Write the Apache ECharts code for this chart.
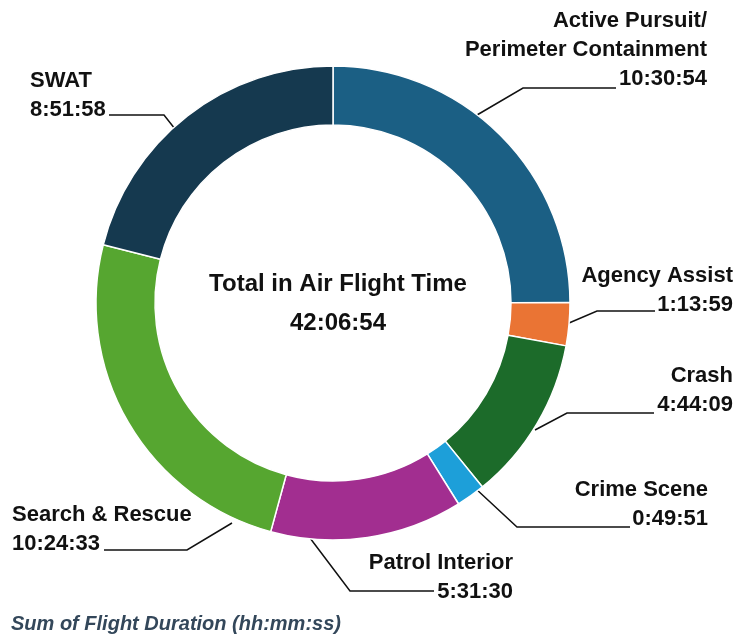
<!DOCTYPE html>
<html>
<head>
<meta charset="utf-8">
<script src="https://cdn.jsdelivr.net/npm/echarts@6/dist/echarts.min.js"></script>
<style>
  html, body { margin: 0; padding: 0; background: #fff; }
  #container { width: 738px; height: 636px; }
</style>
</head>
<body>
<div id="container"></div>
<script>
// flight categories and durations (seconds)
var categories = ['Active Pursuit/Perimeter Containment', 'Agency Assist', 'Crash', 'Crime Scene',
    'Patrol Interior', 'Search & Rescue', 'SWAT'];
var durations = [37854, 4439, 17049, 2991, 19890, 37473, 31918];
var colors = ['#1b5f84', '#ea7434', '#1c6b2a', '#1d9fd9', '#a22e90', '#56a630', '#15394f'];

// label anchor + leader line points: [x, y, align, start, elbow, end]
var labelPos = [
    [707, 50, 'right', [477, 115], [523, 88], [616, 88]],
    [733, 290, 'right', [569, 323], [597, 311], [655, 311]],
    [733, 390, 'right', [535, 430], [567, 413], [654, 413]],
    [708, 504, 'right', [475, 488], [517, 527], [630, 527]],
    [513, 577, 'right', [310, 538], [350, 591], [434, 591]],
    [12, 529, 'left', [232, 523], [187, 550], [104, 550]],
    [30, 95, 'left', [175, 129], [164, 115], [109, 115]]
];

function fmt(sec) {
    var h = Math.floor(sec / 3600);
    var m = Math.floor((sec % 3600) / 60);
    var s = sec % 60;
    return h + ':' + (m < 10 ? '0' : '') + m + ':' + (s < 10 ? '0' : '') + s;
}

var total = 0;
for (var i = 0; i < durations.length; i++) total += durations[i];

var font = "'Liberation Sans', Arial, sans-serif";

var dom = document.getElementById('container');
var myChart = echarts.init(dom);

var option = {
    animation: false,
    title: [
        {
            text: 'Total in Air Flight Time\n' + fmt(total),
            left: 333,
            top: 260,
            textAlign: 'center',
            textStyle: {
                fontFamily: font,
                fontSize: 24,
                fontWeight: 'bold',
                color: '#111',
                lineHeight: 39
            }
        },
        {
            text: 'Sum of Flight Duration (hh:mm:ss)',
            left: 6,
            top: 609,
            textStyle: {
                fontFamily: font,
                fontSize: 20,
                fontWeight: 'bold',
                fontStyle: 'italic',
                color: '#33475a'
            }
        }
    ],
    series: [
        {
            type: 'pie',
            center: [333, 303],
            radius: [178, 237],
            startAngle: 90,
            clockwise: true,
            avoidLabelOverlap: false,
            itemStyle: {
                borderColor: '#fff',
                borderWidth: 1.5
            },
            label: {
                show: true,
                position: 'outside',
                fontFamily: font,
                fontSize: 22,
                fontWeight: 'bold',
                color: '#111',
                lineHeight: 29,
                formatter: function (p) {
                    return p.name.replace('/', '/\n') + '\n' + fmt(p.value);
                }
            },
            labelLine: {
                show: true,
                lineStyle: { color: '#111', width: 1.5 }
            },
            labelLayout: function (params) {
                var lp = labelPos[params.dataIndex];
                return {
                    x: lp[0],
                    y: lp[1],
                    align: lp[2],
                    verticalAlign: 'middle',
                    labelLinePoints: [lp[3], lp[4], lp[5]]
                };
            },
            data: categories.map(function (c, i) {
                return { name: c, value: durations[i], itemStyle: { color: colors[i] } };
            })
        }
    ]
};

myChart.setOption(option);
</script>
</body>
</html>
